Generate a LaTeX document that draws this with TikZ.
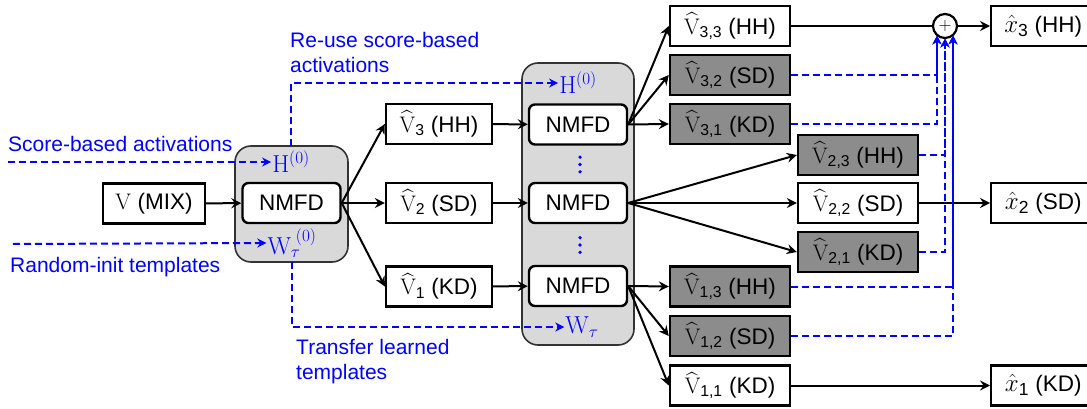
\RequirePackage{fix-cm}
\documentclass[tikz,border=0pt]{standalone}
\usepackage{amsmath}
\usepackage[no-math]{fontspec}
\setmainfont{Liberation Sans}
\usetikzlibrary{arrows.meta,calc}
\definecolor{paneGray}{RGB}{217,217,217}
\definecolor{muteGray}{RGB}{140,140,140}
\definecolor{pathBlue}{RGB}{0,0,255}
\newcommand{\Vh}[1]{$\widehat{\mathrm{V}}_{\text{#1}}$}
\newcommand{\Xh}[1]{{\fontsize{25}{27}\selectfont$\hat{x}_{\text{#1}}$}}
\begin{document}
\begin{tikzpicture}[x=1pt,y=-1pt,
  every node/.style={font=\fontsize{22.5}{27}\selectfont},
  box/.style={draw=black,line width=2.4pt,fill=white,minimum height=40pt,inner sep=0pt},
  muted/.style={box,fill=muteGray},
  nmfdbox/.style={box,rounded corners=6pt,minimum width=98pt},
  pane/.style={draw=black!80,line width=1.6pt,fill=paneGray,rounded corners=16pt},
  flow/.style={line width=2pt,-{Stealth[length=10pt,width=10pt,inset=3.5pt]}},
  bluenote/.style={text=pathBlue,font=\fontsize{21}{25.5}\selectfont,inner sep=0pt},
  mathlabel/.style={text=pathBlue,inner sep=1pt,font=\fontsize{24.5}{27}\selectfont},
  dasharrow/.style={draw=pathBlue,line width=2pt,dash pattern=on 7pt off 4pt,
    -{Stealth[length=9pt,width=9pt,inset=3pt]}}
]
\useasboundingbox (0,0) rectangle (1087,409);
\clip (0,0) rectangle (1087,409);

% grey panes around the NMFD stages
\draw[pane] (235,146) rectangle (348,262);
\draw[pane] (522,63) rectangle (634,345);
\coordinate (pane0top) at (291,146);
\coordinate (pane0bot) at (292,262);

% stage 1: mixture split into three instrument estimates
\node[box,minimum width=102pt] (vmix) at (154,203.5) {$\mathrm{V}$ (MIX)};
\node[nmfdbox] (nmfd0) at (291.5,203) {NMFD};
\node[mathlabel] (H0) at (291,162) {$\mathrm{H}^{(0)}$};
\node[mathlabel] (W0) at (292,243) {$\mathrm{W}_{\tau}^{\;(0)}$};

\node[box,minimum width=106pt] (v3) at (439,124) {\Vh{3} (HH)};
\node[box,minimum width=106pt] (v2) at (439,203) {\Vh{2} (SD)};
\node[box,minimum width=106pt] (v1) at (439,286.5) {\Vh{1} (KD)};

% stage 2: one NMFD per estimate
\node[nmfdbox] (nmfd3) at (578,124.5) {NMFD};
\node[nmfdbox] (nmfd2) at (578,203) {NMFD};
\node[nmfdbox] (nmfd1) at (578,286) {NMFD};
% vertical ellipses between the NMFD blocks
\foreach \yc in {164.5,245}
  \foreach \dy in {-7.3,0,7.3}
    \fill[pathBlue] (580,\yc+\dy) circle (1.8pt);
\node[mathlabel] (Hm) at (578,83) {$\mathrm{H}^{(0)}$};
\node[mathlabel] (Wm) at (582,327) {$\mathrm{W}_{\tau}$};

% second-stage outputs
\node[box,minimum width=120pt] (v33) at (730,26) {\Vh{3,3} (HH)};
\node[muted,minimum width=120pt] (v32) at (730,75) {\Vh{3,2} (SD)};
\node[muted,minimum width=120pt] (v31) at (730,124) {\Vh{3,1} (KD)};
\node[muted,minimum width=120pt] (v23) at (858,155) {\Vh{2,3} (HH)};
\node[box,minimum width=120pt] (v22) at (858,203) {\Vh{2,2} (SD)};
\node[muted,minimum width=120pt] (v21) at (858,252) {\Vh{2,1} (KD)};
\node[muted,minimum width=120pt] (v13) at (730,286.5) {\Vh{1,3} (HH)};
\node[muted,minimum width=120pt] (v12) at (730,336) {\Vh{1,2} (SD)};
\node[box,minimum width=120pt] (v11) at (730,385.5) {\Vh{1,1} (KD)};

% summation and final estimates
\node[draw=black,line width=2.2pt,circle,fill=white,minimum size=24pt,inner sep=0pt,
  font=\fontsize{18}{18}\selectfont] (plus) at (945,26) {$+$};
\node[box,minimum width=104pt,anchor=west] (x3) at (990,26) {\Xh{3} (HH)};
\node[box,minimum width=104pt,anchor=west] (x2) at (990,203) {\Xh{2} (SD)};
\node[box,minimum width=104pt,anchor=west] (x1) at (990,385.5) {\Xh{1} (KD)};

% blue annotations
\coordinate (sbStart) at (8,162);
\coordinate (riStart) at (13,244);
\node[bluenote,anchor=west] (sbText) at (8,144) {Score-based activations};
\node[bluenote,anchor=west] (riText) at (10,267) {Random-init templates};
\node[bluenote,anchor=west,align=left] (reuseText) at (290,52.5) {Re-use score-based\\activations};
\node[bluenote,anchor=west,align=left] (transText) at (296,361.5) {Transfer learned\\templates};

% solid signal flow
\draw[flow] (vmix) -- (nmfd0);
\draw[flow] (nmfd0.east) -- (v3.west);
\draw[flow] (nmfd0.east) -- (v2.west);
\draw[flow] (nmfd0.east) -- (v1.west);
\draw[flow] (v3) -- (nmfd3);
\draw[flow] (v2) -- (nmfd2);
\draw[flow] (v1) -- (nmfd1);
\foreach \s/\t in {3/3,3/2,3/1,2/3,2/2,2/1,1/3,1/2,1/1}
  \draw[flow] (nmfd\s.east) -- (v\s\t.west);
\draw[line width=2pt] (v33) -- (plus);
\draw[flow] (plus) -- (x3);
\draw[flow] (v22) -- (x2);
\draw[flow] (v11) -- (x1);

% dashed initialisation paths
\draw[dasharrow] (sbStart) -- (H0.west);
\draw[dasharrow] (riStart) -- (W0.west);
\draw[dasharrow] (pane0top) |- (Hm.west);
\draw[dasharrow] (pane0bot) |- (Wm.west);

% discarded components summed back into the hi-hat estimate
\coordinate (inA) at ($(plus.center)+(-8,9.5)$);
\coordinate (inB) at ($(plus.center)+(0,12.5)$);
\coordinate (inC) at ($(plus.center)+(8,9.5)$);
\draw[dasharrow] (v32.east) -| (inA);
\draw[dasharrow] (v31.east) -| (inA);
\draw[dasharrow] (v23.east) -| (inB);
\draw[dasharrow] (v21.east) -| (inB);
\draw[dasharrow] (v13.east) -| (inC);
\draw[dasharrow] (v12.east) -| (inC);
\end{tikzpicture}
\end{document}
